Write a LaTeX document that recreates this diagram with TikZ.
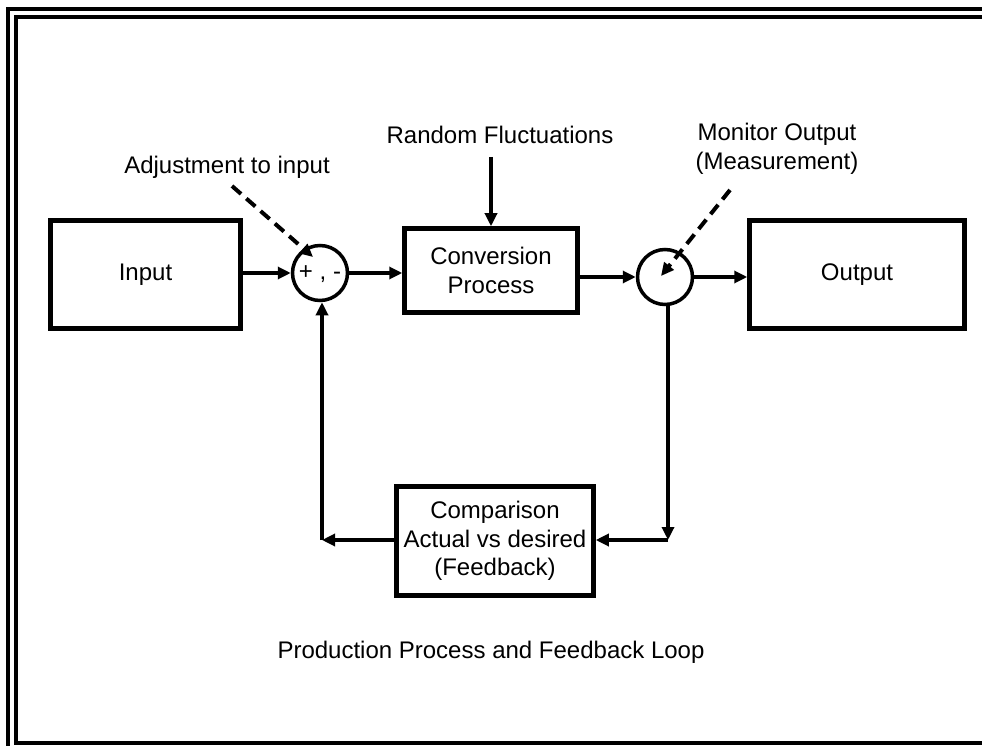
\documentclass[tikz,border=0pt]{standalone}
\usepackage{fontspec}
\setmainfont{Liberation Sans}
\usetikzlibrary{arrows.meta}
\begin{document}
\begin{tikzpicture}[x=1pt,y=-1pt,
  every node/.style={font=\fontsize{24}{28.5}\selectfont},
  blk/.style={draw,line width=4.5pt,inner sep=0pt,align=center},
  junc/.style={draw,circle,line width=3.5pt,minimum size=55pt,inner sep=0pt},
  lbl/.style={inner sep=0pt,align=center},
  arr/.style={line width=3.2pt,-{Triangle[length=13pt,width=12pt]}},
  darr/.style={arr,line width=4pt,dash pattern=on 12pt off 7pt},
  frame/.style={line width=4pt}]
\useasboundingbox (0,0) rectangle (982,746);
% frame
\draw[frame] (8,760) -- (8,9) -- (995,9);
\draw[frame] (995,742.5) -- (16,742.5) -- (16,17) -- (995,17);
% blocks
\node[blk,minimum width=190pt,minimum height=108pt] (in) at (145.5,274.5) {Input};
\node[junc] (sum) at (320,273) {};
\node[lbl] (pm) at (320,274) {+ , -};
\node[blk,minimum width=173pt,minimum height=84pt] (conv) at (491,270.5) {Conversion\\Process};
\node[junc] (meas) at (665,277) {};
\node[blk,minimum width=215pt,minimum height=108pt] (out) at (857,274.5) {Output};
\node[blk,minimum width=197pt,minimum height=109pt] (cmp) at (495,541) {Comparison\\Actual vs desired\\(Feedback)};
% labels
\node[lbl] (adj) at (227,167) {Adjustment to input};
\node[lbl] (rf) at (500,135) {Random Fluctuations};
\node[lbl] (mon) at (777,149) {Monitor Output\\(Measurement)};
\node[lbl] (title) at (491,652) {Production Process and Feedback Loop};
% coordinates
\coordinate (rfS) at (491,157);
\coordinate (adjS) at (232,186);
\coordinate (adjT) at (313,257);
\coordinate (monS) at (730,190);
\coordinate (monT) at (661,276);
\coordinate (fbR) at (668,540);
\coordinate (fbL) at (322,540);
% main flow
\draw[arr] (in.east |- sum) -- (sum.west);
\draw[arr] (sum.east) -- (sum.east -| conv.west);
\draw[arr] (rfS) -- (rfS |- conv.north);
\draw[arr] (conv.east |- meas) -- (meas.west);
\draw[arr] (meas.east) -- (meas.east -| out.west);
% dashed inputs
\draw[darr] (adjS) -- (adjT);
\draw[darr] (monS) -- (monT);
% feedback
\draw[arr] (fbR |- meas.south) -- (fbR);
\draw[arr] (fbR) -- (fbR -| cmp.east);
\draw[arr] (cmp.west |- fbL) -- (fbL);
\draw[arr] (fbL) -- (fbL |- sum.south);
\end{tikzpicture}
\end{document}
